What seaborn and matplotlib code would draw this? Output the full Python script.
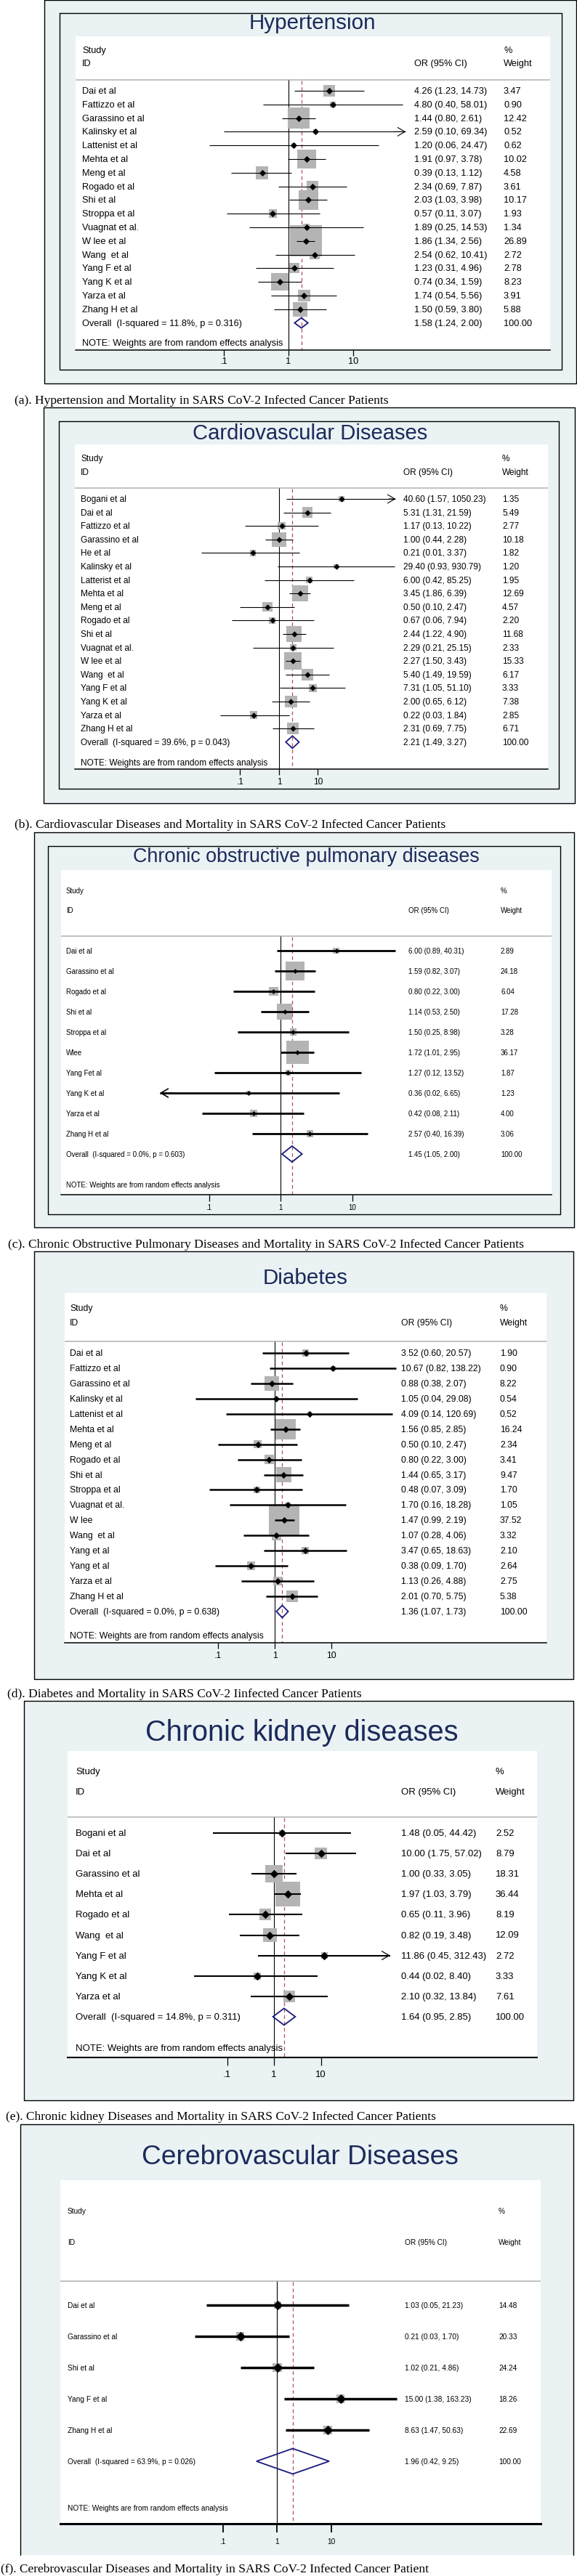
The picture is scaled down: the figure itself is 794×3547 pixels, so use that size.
import matplotlib
matplotlib.use('Agg')
import matplotlib.pyplot as plt
import matplotlib.ticker as mticker
import seaborn as sns
import numpy as np
import pandas as pd
from matplotlib.patches import Rectangle
from matplotlib.lines import Line2D
from matplotlib import font_manager as fm

# ---------------------------------------------------------------- data
htn_title = "Hypertension"
htn_caption = "(a). Hypertension and Mortality in SARS CoV-2 Infected Cancer Patients"
htn_study = ["Dai et al", "Fattizzo et al", "Garassino et al", "Kalinsky et al", "Lattenist et al",
             "Mehta et al", "Meng et al", "Rogado et al", "Shi et al", "Stroppa et al", "Vuagnat et al.",
             "W lee et al", "Wang  et al", "Yang F et al", "Yang K et al", "Yarza et al", "Zhang H et al"]
htn_or = [4.26, 4.80, 1.44, 2.59, 1.20, 1.91, 0.39, 2.34, 2.03, 0.57, 1.89, 1.86, 2.54, 1.23, 0.74, 1.74, 1.50]
htn_lo = [1.23, 0.40, 0.80, 0.10, 0.06, 0.97, 0.13, 0.69, 1.03, 0.11, 0.25, 1.34, 0.62, 0.31, 0.34, 0.54, 0.59]
htn_hi = [14.73, 58.01, 2.61, 69.34, 24.47, 3.78, 1.12, 7.87, 3.98, 3.07, 14.53, 2.56, 10.41, 4.96, 1.59, 5.56, 3.80]
htn_wt = [3.47, 0.90, 12.42, 0.52, 0.62, 10.02, 4.58, 3.61, 10.17, 1.93, 1.34, 26.89, 2.72, 2.78, 8.23, 3.91, 5.88]
htn_overall = [1.58, 1.24, 2.00]
htn_het = "Overall  (I-squared = 11.8%, p = 0.316)"

cvd_title = "Cardiovascular Diseases"
cvd_caption = "(b). Cardiovascular Diseases and Mortality in SARS CoV-2 Infected Cancer Patients"
cvd_study = ["Bogani et al", "Dai et al", "Fattizzo et al", "Garassino et al", "He et al", "Kalinsky et al",
             "Latterist et al", "Mehta et al", "Meng et al", "Rogado et al", "Shi et al", "Vuagnat et al.",
             "W lee et al", "Wang  et al", "Yang F et al", "Yang K et al", "Yarza et al", "Zhang H et al"]
cvd_or = [40.60, 5.31, 1.17, 1.00, 0.21, 29.40, 6.00, 3.45, 0.50, 0.67, 2.44, 2.29, 2.27, 5.40, 7.31, 2.00, 0.22, 2.31]
cvd_lo = [1.57, 1.31, 0.13, 0.44, 0.01, 0.93, 0.42, 1.86, 0.10, 0.06, 1.22, 0.21, 1.50, 1.49, 1.05, 0.65, 0.03, 0.69]
cvd_hi = [1050.23, 21.59, 10.22, 2.28, 3.37, 930.79, 85.25, 6.39, 2.47, 7.94, 4.90, 25.15, 3.43, 19.59, 51.10, 6.12, 1.84, 7.75]
cvd_wt = [1.35, 5.49, 2.77, 10.18, 1.82, 1.20, 1.95, 12.69, 4.57, 2.20, 11.68, 2.33, 15.33, 6.17, 3.33, 7.38, 2.85, 6.71]
cvd_overall = [2.21, 1.49, 3.27]
cvd_het = "Overall  (I-squared = 39.6%, p = 0.043)"

copd_title = "Chronic obstructive pulmonary diseases"
copd_caption = "(c). Chronic Obstructive Pulmonary Diseases and Mortality in SARS CoV-2 Infected Cancer Patients"
copd_study = ["Dai et al", "Garassino et al", "Rogado et al", "Shi et al", "Stroppa et al", "Wlee",
              "Yang Fet al", "Yang K et al", "Yarza et al", "Zhang H et al"]
copd_or = [6.00, 1.59, 0.80, 1.14, 1.50, 1.72, 1.27, 0.36, 0.42, 2.57]
copd_lo = [0.89, 0.82, 0.22, 0.53, 0.25, 1.01, 0.12, 0.02, 0.08, 0.40]
copd_hi = [40.31, 3.07, 3.00, 2.50, 8.98, 2.95, 13.52, 6.65, 2.11, 16.39]
copd_wt = [2.89, 24.18, 6.04, 17.28, 3.28, 36.17, 1.87, 1.23, 4.00, 3.06]
copd_overall = [1.45, 1.05, 2.00]
copd_het = "Overall  (I-squared = 0.0%, p = 0.603)"

dm_title = "Diabetes"
dm_caption = "(d). Diabetes and Mortality in SARS CoV-2 Iinfected Cancer Patients"
dm_study = ["Dai et al", "Fattizzo et al", "Garassino et al", "Kalinsky et al", "Lattenist et al",
            "Mehta et al", "Meng et al", "Rogado et al", "Shi et al", "Stroppa et al", "Vuagnat et al.",
            "W lee", "Wang  et al", "Yang et al", "Yang et al", "Yarza et al", "Zhang H et al"]
dm_or = [3.52, 10.67, 0.88, 1.05, 4.09, 1.56, 0.50, 0.80, 1.44, 0.48, 1.70, 1.47, 1.07, 3.47, 0.38, 1.13, 2.01]
dm_lo = [0.60, 0.82, 0.38, 0.04, 0.14, 0.85, 0.10, 0.22, 0.65, 0.07, 0.16, 0.99, 0.28, 0.65, 0.09, 0.26, 0.70]
dm_hi = [20.57, 138.22, 2.07, 29.08, 120.69, 2.85, 2.47, 3.00, 3.17, 3.09, 18.28, 2.19, 4.06, 18.63, 1.70, 4.88, 5.75]
dm_wt = [1.90, 0.90, 8.22, 0.54, 0.52, 16.24, 2.34, 3.41, 9.47, 1.70, 1.05, 37.52, 3.32, 2.10, 2.64, 2.75, 5.38]
dm_overall = [1.36, 1.07, 1.73]
dm_het = "Overall  (I-squared = 0.0%, p = 0.638)"

ckd_title = "Chronic kidney diseases"
ckd_caption = "(e). Chronic kidney Diseases and Mortality in SARS CoV-2 Infected Cancer Patients"
ckd_study = ["Bogani et al", "Dai et al", "Garassino et al", "Mehta et al", "Rogado et al", "Wang  et al",
             "Yang F et al", "Yang K et al", "Yarza et al"]
ckd_or = [1.48, 10.00, 1.00, 1.97, 0.65, 0.82, 11.86, 0.44, 2.10]
ckd_lo = [0.05, 1.75, 0.33, 1.03, 0.11, 0.19, 0.45, 0.02, 0.32]
ckd_hi = [44.42, 57.02, 3.05, 3.79, 3.96, 3.48, 312.43, 8.40, 13.84]
ckd_wt = [2.52, 8.79, 18.31, 36.44, 8.19, 12.09, 2.72, 3.33, 7.61]
ckd_overall = [1.64, 0.95, 2.85]
ckd_het = "Overall  (I-squared = 14.8%, p = 0.311)"

cbv_title = "Cerebrovascular Diseases"
cbv_caption = "(f). Cerebrovascular Diseases and Mortality in SARS CoV-2 Infected Cancer Patient"
cbv_study = ["Dai et al", "Garassino et al", "Shi et al", "Yang F et al", "Zhang H et al"]
cbv_or = [1.03, 0.21, 1.02, 15.00, 8.63]
cbv_lo = [0.05, 0.03, 0.21, 1.38, 1.47]
cbv_hi = [21.23, 1.70, 4.86, 163.23, 50.63]
cbv_wt = [14.48, 20.33, 24.24, 18.26, 22.69]
cbv_overall = [1.96, 0.42, 9.25]
cbv_het = "Overall  (I-squared = 63.9%, p = 0.026)"

tick_values = [0.1, 1, 10]
tick_labels = [".1", "1", "10"]
note_text = "NOTE: Weights are from random effects analysis"

# ---------------------------------------------------------------- setup
W, H = 794, 3548
sns.set_theme(style="white")
avail = {f.name for f in fm.fontManager.ttflist}
SANS = "Liberation Sans" if "Liberation Sans" in avail else "DejaVu Sans"
NARROW = "Liberation Sans Narrow" if "Liberation Sans Narrow" in avail else SANS
SERIF = "Liberation Serif" if "Liberation Serif" in avail else "DejaVu Serif"
plt.rcParams["font.family"] = [SANS, "DejaVu Sans"]

BG = "#EAF2F3"
NAVY = "#1C2A5C"
DIA = "#1A1A7E"
GRAY = "#B4B4B4"
RED = "#B4505A"

fig = plt.figure(figsize=(W / 100, H / 100), dpi=100)
fig.patch.set_facecolor("white")
renderer = fig.canvas.get_renderer()


def fx(x):
    return x / W


def fy(y):
    return 1 - y / H


def fit_size(text, family, target, ref=10.0):
    t = fig.text(0, 0, text, fontsize=ref, family=family)
    w = t.get_window_extent(renderer).width
    t.remove()
    return ref * target / w


def fline(xs, ys, lw, color="black", z=-8):
    fig.add_artist(Line2D([fx(v) for v in xs], [fy(v) for v in ys], transform=fig.transFigure,
                          color=color, lw=lw, zorder=z))


def draw_panel(title, caption, study, orv, lo, hi, wt, overall, het, L):
    # outer light box
    ox0, oy0, ox1, oy1 = L["outer"]
    fig.add_artist(Rectangle((fx(ox0), fy(oy1)), (ox1 - ox0) / W, (oy1 - oy0) / H,
                             transform=fig.transFigure, facecolor=BG, edgecolor="none", zorder=-10))
    if L.get("outer_bottom", True):
        fline([ox0, ox1, ox1, ox0, ox0], [oy0, oy0, oy1, oy1, oy0], 1.0)
    else:
        fline([ox0, ox0, ox1, ox1], [oy1, oy0, oy0, oy1], 1.0)
    if L.get("inner") is not None:
        ix0, iy0, ix1, iy1 = L["inner"]
        fline([ix0, ix1, ix1, ix0, ix0], [iy0, iy0, iy1, iy1, iy0], 1.0)

    # title and caption
    tsize = fit_size(title, SANS, L["title_w"])
    fig.text(fx(L["title_xy"][0]), fy(L["title_xy"][1]), title, ha="center", va="center",
             family=SANS, fontsize=tsize, color=NAVY)
    csize = fit_size(caption, SERIF, L["cap_w"])
    fig.text(fx(L["cap_xy"][0]), fy(L["cap_xy"][1]), caption, ha="left", va="center",
             family=SERIF, fontsize=csize, color="black")

    # plot axes on white region
    wx0, wy0, wx1, wy1 = L["white"]
    ax = fig.add_axes([fx(wx0), fy(wy1), (wx1 - wx0) / W, (wy1 - wy0) / H])
    ax.set_facecolor("white")
    ax.set_xscale("log")
    p1, dec = L["tick1"], L["dec"]
    ax.set_xlim(10 ** ((wx0 - p1) / dec), 10 ** ((wx1 - p1) / dec))
    ax.set_ylim(wy1, wy0)

    fs = fit_size("Garassino et al", NARROW, L["txt_w"])
    em = fs / 0.72

    n = len(study)
    ys = L["row0"] + np.arange(n) * L["dy"]
    y_ov = L["row0"] + n * L["dy"]

    orv = np.array(orv); lo = np.array(lo); hi = np.array(hi); wt = np.array(wt)

    # header line and reference lines
    ax.axhline(L["hdr_y"], color="#C4C4C4", lw=L.get("hdr_lw", 1.5), zorder=1)
    ax.vlines(1, L["hdr_y"], wy1, colors="black", lw=0.8, zorder=1)
    ax.vlines(overall[0], L["hdr_y"] + 1, wy1, colors=RED, lw=0.9, linestyles=(0, (4, 3)), zorder=1)

    # weight boxes (area proportional to weight)
    c = (0.72 * L["k"]) ** 2
    df = pd.DataFrame({"or": orv, "y": ys, "w": wt})
    sns.scatterplot(data=df, x="or", y="y", size="w", sizes=(c * wt.min(), c * wt.max()),
                    size_norm=(wt.min(), wt.max()), marker="s", color=GRAY, linewidth=0,
                    legend=False, ax=ax, zorder=2)

    # CI lines with clipping arrows
    clo = L.get("clip_lo", 0.0)
    chi = L.get("clip_hi", np.inf)
    lo_c = np.maximum(lo, clo)
    hi_c = np.minimum(hi, chi)
    ax.hlines(ys, lo_c, hi_c, colors="black", lw=L["ci_lw"], zorder=3)
    arrow = dict(arrowstyle="->,head_length=0.6,head_width=0.35", color="black",
                 lw=max(0.8, L["ci_lw"] * 0.6), shrinkA=0, shrinkB=0)
    for i in range(n):
        if hi[i] > chi:
            ax.annotate("", xy=(chi, ys[i]), xytext=(chi / 1.5, ys[i]), arrowprops=arrow, zorder=3)
        if lo[i] < clo:
            ax.annotate("", xy=(clo, ys[i]), xytext=(clo * 1.5, ys[i]), arrowprops=arrow, zorder=3)

    # point estimates
    sns.scatterplot(x=orv, y=ys, marker="D", color="black", s=L["pt_s"], linewidth=0,
                    legend=False, ax=ax, zorder=4)

    # overall diamond
    h = L["dia_h"]
    ax.fill([overall[1], overall[0], overall[2], overall[0]],
            [y_ov, y_ov - h / 2, y_ov, y_ov + h / 2],
            facecolor="none", edgecolor=DIA, lw=L.get("dia_lw", 1.3), zorder=4)

    # axis styling
    for s in ["top", "left", "right"]:
        ax.spines[s].set_visible(False)
    ax.spines["bottom"].set_color("black")
    ax.spines["bottom"].set_linewidth(L.get("axis_lw", 1.1))
    ax.set_yticks([])
    ax.xaxis.set_minor_locator(mticker.NullLocator())
    ax.set_xticks(tick_values)
    ax.set_xticklabels(tick_labels, fontfamily=NARROW, fontsize=fs)
    tl = L["tick_len"]
    pad_px = max(0.0, (L["lab_y"] - wy1) - tl - 0.55 * em)
    ax.tick_params(axis="x", which="major", bottom=True, direction="out", length=tl * 0.72,
                   width=L.get("tick_w", 0.9), pad=pad_px * 0.72, colors="black")
    ax.set_xlabel("")
    ax.set_ylabel("")
    ax.grid(False)

    # text columns
    cs, co, cw = L["col_s"], L["col_or"], L["col_w"]
    kw = dict(va="center", ha="left", family=NARROW, fontsize=fs, color="black", zorder=6)
    fig.text(fx(cs), fy(L["study_y"]), "Study", **kw)
    fig.text(fx(cs), fy(L["id_y"]), "ID", **kw)
    fig.text(fx(co), fy(L["id_y"]), "OR (95% CI)", **kw)
    fig.text(fx(cw), fy(L["study_y"]), "%", **kw)
    fig.text(fx(cw), fy(L["id_y"]), "Weight", **kw)
    for i in range(n):
        fig.text(fx(cs), fy(ys[i]), study[i], **kw)
        fig.text(fx(co), fy(ys[i]), f"{orv[i]:.2f} ({lo[i]:.2f}, {hi[i]:.2f})", **kw)
        fig.text(fx(cw), fy(ys[i]), f"{wt[i]:.2f}", **kw)
    fig.text(fx(cs), fy(y_ov), het, **kw)
    fig.text(fx(co), fy(y_ov), f"{overall[0]:.2f} ({overall[1]:.2f}, {overall[2]:.2f})", **kw)
    fig.text(fx(cw), fy(y_ov), "100.00", **kw)
    fig.text(fx(cs), fy(L["note_y"]), note_text, **kw)


# ---------------------------------------------------------------- layouts (pixels)
LA = dict(outer=(61, 1, 793, 529), inner=(82, 19, 773, 510), white=(104, 51, 757, 483),
          title_xy=(430, 32), title_w=175, cap_xy=(20, 552), cap_w=515,
          tick1=397, dec=89, study_y=70, id_y=88, hdr_y=111, row0=126, dy=18.8, note_y=473,
          col_s=113, col_or=570, col_w=693, txt_w=86, k=8.3, pt_s=22, ci_lw=0.8, dia_h=14,
          tick_len=8, lab_y=499, clip_hi=65)
LB = dict(outer=(60, 562, 791, 1107), inner=(81, 581, 769, 1087), white=(103, 613, 754, 1060),
          title_xy=(427, 597), title_w=325, cap_xy=(20, 1136), cap_w=593,
          tick1=384, dec=53.5, study_y=632, id_y=651, hdr_y=673, row0=688, dy=18.6, note_y=1051,
          col_s=111, col_or=555, col_w=691, txt_w=80, k=6.2, pt_s=18, ci_lw=0.8, dia_h=17,
          tick_len=8, lab_y=1078, clip_hi=1000)
LC = dict(outer=(47, 1147, 790, 1691), inner=(66, 1166, 771, 1673), white=(84, 1199, 759, 1646),
          title_xy=(421, 1180), title_w=478, cap_xy=(11, 1714), cap_w=710,
          tick1=386, dec=98.5, study_y=1227, id_y=1254, hdr_y=1290, row0=1310, dy=28, note_y=1632,
          col_s=91, col_or=562, col_w=689, txt_w=66, k=5.2, pt_s=12, ci_lw=2.0, dia_h=22,
          tick_len=9, lab_y=1663, clip_lo=0.0205)
LD = dict(outer=(47, 1724, 789, 2313), inner=None, white=(89, 1781, 752, 2263),
          title_xy=(420, 1760), title_w=117, cap_xy=(10, 2333), cap_w=487,
          tick1=378, dec=78, study_y=1802, id_y=1822, hdr_y=1848, row0=1864, dy=20.94, note_y=2253,
          col_s=96, col_or=552, col_w=688, txt_w=83, k=7.0, pt_s=22, ci_lw=1.8, dia_h=17,
          tick_len=8, lab_y=2281)
LE = dict(outer=(33, 2343, 789, 2893), inner=None, white=(93, 2412, 739, 2834),
          title_xy=(415, 2386), title_w=432, cap_xy=(8, 2915), cap_w=592,
          tick1=377, dec=64.5, study_y=2440, id_y=2468, hdr_y=2503, row0=2525, dy=28.1, note_y=2821,
          col_s=104, col_or=552, col_w=682, txt_w=89, k=5.6, pt_s=34, ci_lw=1.5, dia_h=23,
          tick_len=11, lab_y=2858, clip_hi=300, axis_lw=1.5)
LF = dict(outer=(28, 2926, 789, 3519), outer_bottom=False, inner=None, white=(83, 3003, 744, 3476),
          title_xy=(413, 2971), title_w=436, cap_xy=(1, 3538), cap_w=590,
          tick1=381, dec=74.5, study_y=3045, id_y=3088, hdr_y=3142, row0=3175, dy=43, note_y=3454,
          col_s=93, col_or=557, col_w=686, txt_w=68.5, k=2.6, pt_s=45, ci_lw=2.5, dia_h=35,
          tick_len=12, lab_y=3501, axis_lw=2.2, tick_w=1.3)

draw_panel(htn_title, htn_caption, htn_study, htn_or, htn_lo, htn_hi, htn_wt, htn_overall, htn_het, LA)
draw_panel(cvd_title, cvd_caption, cvd_study, cvd_or, cvd_lo, cvd_hi, cvd_wt, cvd_overall, cvd_het, LB)
draw_panel(copd_title, copd_caption, copd_study, copd_or, copd_lo, copd_hi, copd_wt, copd_overall, copd_het, LC)
draw_panel(dm_title, dm_caption, dm_study, dm_or, dm_lo, dm_hi, dm_wt, dm_overall, dm_het, LD)
draw_panel(ckd_title, ckd_caption, ckd_study, ckd_or, ckd_lo, ckd_hi, ckd_wt, ckd_overall, ckd_het, LE)
draw_panel(cbv_title, cbv_caption, cbv_study, cbv_or, cbv_lo, cbv_hi, cbv_wt, cbv_overall, cbv_het, LF)

fig.savefig("out.png", dpi=100, facecolor="white")
